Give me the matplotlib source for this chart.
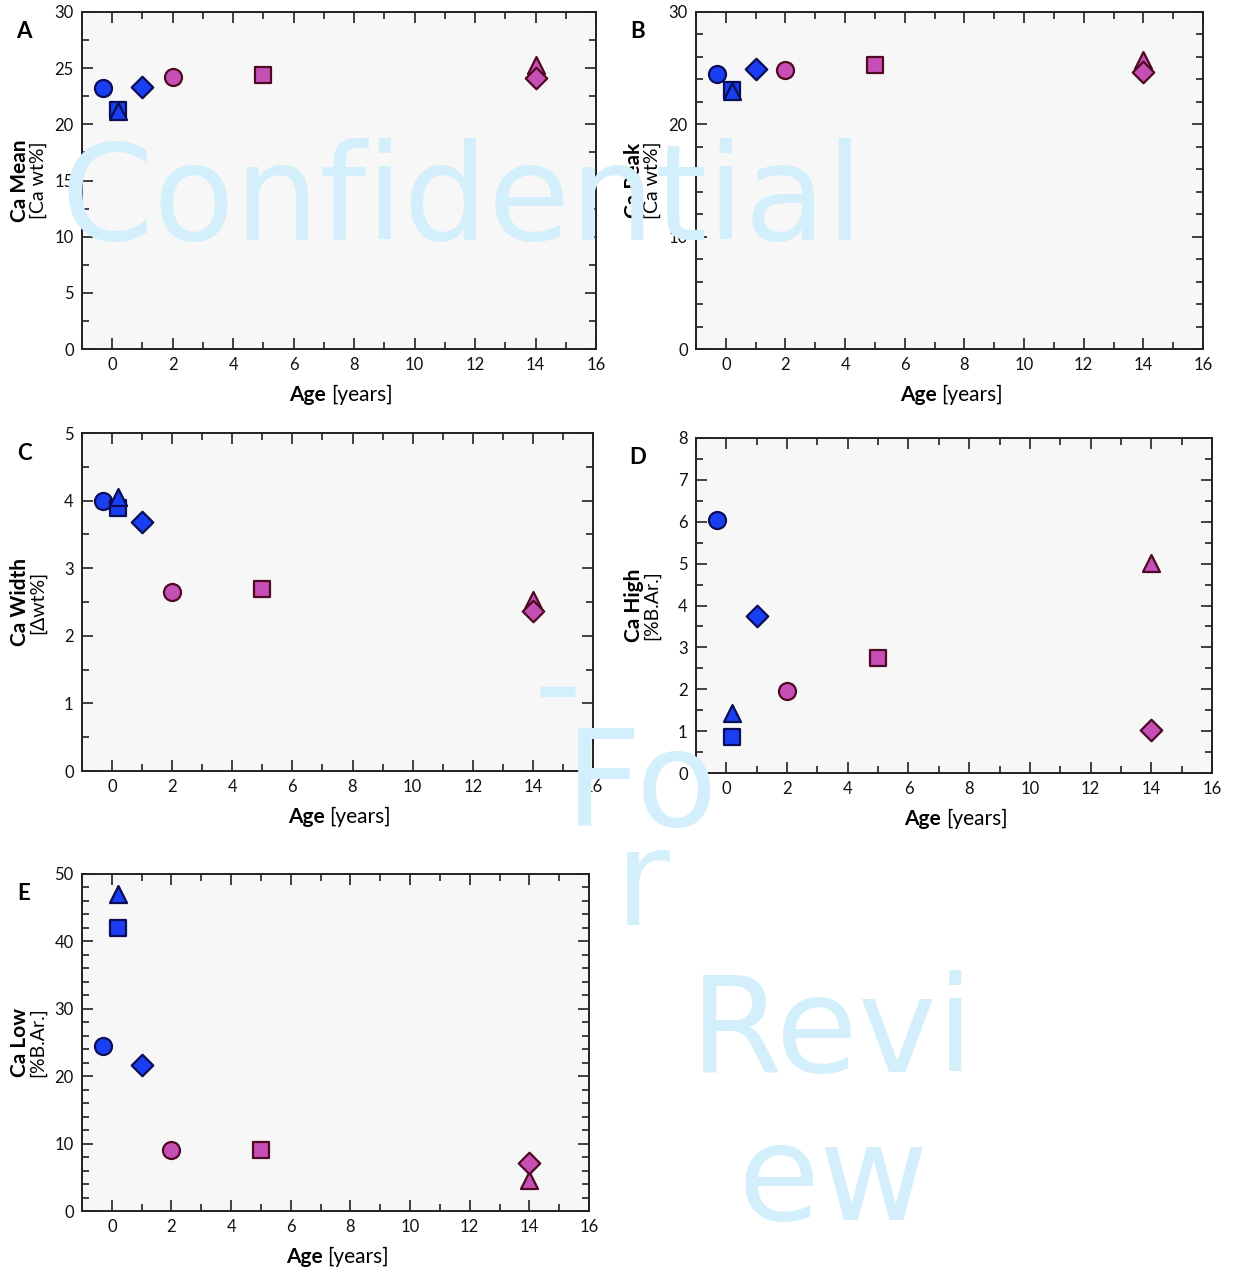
import matplotlib
matplotlib.use("Agg")
import matplotlib.pyplot as plt
from matplotlib.ticker import MultipleLocator

plt.rcParams['font.family'] = ['Lato', 'DejaVu Sans']

W, H = 1233, 1270

# marker order: blue circle, blue square, blue triangle, blue diamond,
#               pink circle, pink square, pink triangle, pink diamond
ages = [-0.3, 0.2, 0.2, 1.0, 2.0, 5.0, 14.0, 14.0]
markers = ['o', 's', '^', 'D', 'o', 's', '^', 'D']
groups = ['blue', 'blue', 'blue', 'blue', 'pink', 'pink', 'pink', 'pink']

ca_mean = [23.2, 21.3, 21.2, 23.3, 24.2, 24.4, 25.3, 24.1]
ca_peak = [24.5, 23.1, 23.0, 24.9, 24.8, 25.3, 25.7, 24.7]
ca_width = [4.0, 3.89, 4.05, 3.68, 2.65, 2.69, 2.53, 2.37]
ca_high = [6.04, 0.86, 1.43, 3.75, 1.96, 2.74, 5.01, 1.03]
ca_low = [24.5, 42.0, 47.0, 21.7, 9.05, 9.05, 4.6, 7.1]

panels = [
    # letter, data, ylim, major, minor, bold label, unit label, pixel rect (x0, y0, x1, y1)
    ('A', ca_mean, (0, 30), 5, 2.5, 'Ca Mean', '[Ca wt%]', (82, 12, 596, 349)),
    ('B', ca_peak, (0, 30), 10, 2, 'Ca Peak', '[Ca wt%]', (696, 12, 1203, 349)),
    ('C', ca_width, (0, 5), 1, 0.5, 'Ca Width', '[Δwt%]', (82, 433, 593, 771)),
    ('D', ca_high, (0, 8), 1, 0.5, 'Ca High', '[%B.Ar.]', (696, 438, 1212, 773)),
    ('E', ca_low, (0, 50), 10, 2, 'Ca Low', '[%B.Ar.]', (82, 874, 589, 1211)),
]

fill = {'blue': '#1a3ff2', 'pink': '#c64fb6'}
edge = {'blue': '#0b0d55', 'pink': '#4e0a22'}
msize = {'o': 150, '^': 150, 's': 140, 'D': 120}

fig = plt.figure(figsize=(W / 100, H / 100), dpi=100)

def fx(px):
    return px / W

def fy(py):
    return 1 - py / H

for letter, vals, ylim, major, minor, blab, ulab, (x0, y0, x1, y1) in panels:
    ax = fig.add_axes([fx(x0), fy(y1), (x1 - x0) / W, (y1 - y0) / H])
    ax.set_facecolor('#f7f7f7')
    for a, v, m, g in zip(ages, vals, markers, groups):
        ax.scatter([a], [v], marker=m, s=msize[m], facecolor=fill[g],
                   edgecolor=edge[g], linewidth=1.6, zorder=3, clip_on=False)
    ax.set_xlim(-1, 16)
    ax.set_ylim(*ylim)
    ax.xaxis.set_major_locator(MultipleLocator(2))
    ax.xaxis.set_minor_locator(MultipleLocator(1))
    ax.yaxis.set_major_locator(MultipleLocator(major))
    ax.yaxis.set_minor_locator(MultipleLocator(minor))
    ax.tick_params(which='both', direction='in', top=True, right=True,
                   width=1.2, colors='#222222', labelcolor='#111111')
    ax.tick_params(which='major', length=8, labelsize=12, pad=6)
    ax.tick_params(which='minor', length=5)
    for s in ax.spines.values():
        s.set_linewidth(1.4)
        s.set_color('#222222')
    # panel letter
    fig.text(fx(x0 - 58), fy(y0 + 20), letter, fontsize=16, fontweight='bold',
             ha='center', va='center')
    # y label
    yc = (y0 + y1) / 2
    fig.text(fx(x0 - 62), fy(yc), blab, fontsize=15, fontweight='bold',
             rotation=90, ha='center', va='center')
    fig.text(fx(x0 - 44), fy(yc), ulab, fontsize=14,
             rotation=90, ha='center', va='center')
    # x label
    xc = (x0 + x1) / 2
    fig.text(fx(xc - 13), fy(y1 + 46), 'Age', fontsize=15, fontweight='bold',
             ha='right', va='center')
    fig.text(fx(xc - 8), fy(y1 + 46), '[years]', fontsize=15,
             ha='left', va='center')

# watermark
wm = dict(fontsize=96, color='#d3effc', family='DejaVu Sans', zorder=100,
          ha='left', va='baseline')
fig.text(fx(60), fy(240), 'Confidential', **wm)
fig.text(fx(533), fy(728), '-', **wm)
fig.text(fx(565), fy(826), 'Fo', **wm)
fig.text(fx(615), fy(925), 'r', **wm)
fig.text(fx(690), fy(1072), 'Revi', **wm)
fig.text(fx(738), fy(1220), 'ew', **wm)

fig.savefig('out.png', dpi=100)
